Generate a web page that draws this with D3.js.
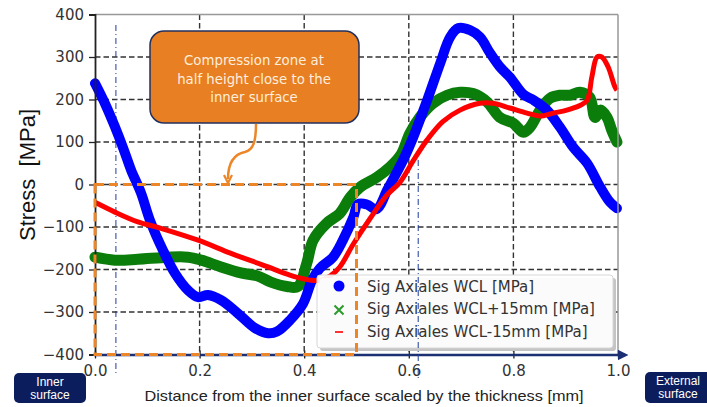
<!DOCTYPE html>
<html>
<head>
<meta charset="utf-8">
<script src="https://cdn.jsdelivr.net/npm/d3@7"></script>
<style>
  body { margin: 0; background: #fff; }
  svg { display: block; }
</style>
</head>
<body>
<svg id="chart" width="707" height="407"></svg>
<script>
// Stress profiles (x = scaled distance, y = MPa)
var wclX = [0, 0.02, 0.038, 0.055, 0.069, 0.088, 0.105, 0.13, 0.153, 0.178, 0.197, 0.216, 0.241, 0.273, 0.306, 0.331, 0.348, 0.373, 0.398, 0.415, 0.43, 0.455, 0.474, 0.494, 0.503, 0.52, 0.538, 0.56, 0.589, 0.608, 0.635, 0.66, 0.679, 0.695, 0.717, 0.736, 0.755, 0.774, 0.793, 0.819, 0.838, 0.864, 0.889, 0.914, 0.941, 0.966, 0.985, 0.998];
var wclY = [238, 188, 136, 82, 34, -20, -84, -155, -209, -249, -265, -260, -272, -303, -338, -350, -346, -319, -280, -225, -197, -171, -131, -77, -46, -47, -58, -10, 57, 110, 198, 285, 347, 368, 363, 347, 310, 277, 253, 212, 199, 175, 135, 88, 50, -6, -42, -56];

var plusX = [0, 0.038, 0.082, 0.14, 0.178, 0.203, 0.241, 0.279, 0.31, 0.335, 0.367, 0.388, 0.405, 0.417, 0.443, 0.468, 0.488, 0.507, 0.539, 0.564, 0.585, 0.602, 0.621, 0.646, 0.673, 0.698, 0.723, 0.75, 0.774, 0.8, 0.819, 0.832, 0.851, 0.87, 0.889, 0.908, 0.927, 0.946, 0.956, 0.966, 0.979, 0.988, 0.998];
var plusY = [-171, -178, -176, -171, -171, -178, -194, -208, -215, -229, -240, -240, -185, -131, -91, -68, -30, -6, 17, 41, 70, 120, 158, 191, 210, 217, 214, 194, 158, 144, 123, 135, 175, 203, 210, 210, 217, 205, 158, 175, 158, 128, 100];

var minusX = [0, 0.038, 0.082, 0.126, 0.197, 0.26, 0.331, 0.36, 0.385, 0.411, 0.43, 0.45, 0.468, 0.494, 0.526, 0.558, 0.583, 0.608, 0.635, 0.665, 0.698, 0.736, 0.761, 0.793, 0.826, 0.851, 0.876, 0.902, 0.927, 0.941, 0.95, 0.96, 0.969, 0.981, 0.994, 0.998];
var minusY = [-42, -65, -88, -103, -131, -162, -194, -208, -218, -225, -226, -215, -194, -140, -80, -25, 5, 55, 105, 148, 175, 191, 191, 180, 168, 161, 168, 175, 186, 198, 253, 300, 300, 277, 230, 222];

var seriesNames = ["Sig Axiales WCL [MPa]", "Sig Axiales WCL+15mm [MPa]", "Sig Axiales WCL-15mm [MPa]"];
var xTicks = [0, 0.2, 0.4, 0.6, 0.8, 1.0];
var yTicks = [-400, -300, -200, -100, 0, 100, 200, 300, 400];
var noteLines = ["Compression zone at", "half height close to the", "inner surface"];
var markerX = [0.04, 0.618];   // the two dash-dot guides
var zoneX = [0, 0.5];          // orange dashed compression zone
var zoneY = [-400, 0];

var svg = d3.select("#chart");

var x = d3.scaleLinear().domain([0, 1]).range([95, 618]);
var y = d3.scaleLinear().domain([-400, 400]).range([354.5, 14.5]);

// grid
svg.append("g").selectAll("line")
    .data(xTicks.slice(1, 5))
    .enter().append("line")
    .attr("x1", function(d) { return x(d); })
    .attr("x2", function(d) { return x(d); })
    .attr("y1", y(400)).attr("y2", y(-400))
    .attr("stroke", "#333").attr("stroke-width", 1.4)
    .attr("stroke-dasharray", "5.5,3");

svg.append("g").selectAll("line")
    .data(yTicks.slice(1, 8))
    .enter().append("line")
    .attr("x1", x(0)).attr("x2", x(1))
    .attr("y1", function(d) { return y(d); })
    .attr("y2", function(d) { return y(d); })
    .attr("stroke", "#333").attr("stroke-width", 1.4)
    .attr("stroke-dasharray", "5.5,3");

// first dash-dot guide (behind the curves)
svg.append("line")
    .attr("x1", x(markerX[0])).attr("x2", x(markerX[0]))
    .attr("y1", 25).attr("y2", 374)
    .attr("stroke", "#1f3c9a").attr("stroke-width", 1)
    .attr("stroke-dasharray", "6,3,1,3");

// curves
var line = d3.line()
    .x(function(d) { return x(d[0]); })
    .y(function(d) { return y(d[1]); })
    .curve(d3.curveCatmullRom.alpha(0.5));

function pairs(xs, ys) {
    return xs.map(function(v, i) { return [v, ys[i]]; });
}

svg.append("path")
    .datum(pairs(plusX, plusY))
    .attr("d", line)
    .attr("fill", "none").attr("stroke", "#0a7d0a")
    .attr("stroke-width", 11).attr("stroke-linejoin", "round").attr("stroke-linecap", "round");

svg.append("path")
    .datum(pairs(wclX, wclY))
    .attr("d", line)
    .attr("fill", "none").attr("stroke", "#0000ff")
    .attr("stroke-width", 10).attr("stroke-linejoin", "round").attr("stroke-linecap", "round");

svg.append("path")
    .datum(pairs(minusX, minusY))
    .attr("d", line)
    .attr("fill", "none").attr("stroke", "#ff0000")
    .attr("stroke-width", 5).attr("stroke-linejoin", "round").attr("stroke-linecap", "butt");

// spines
svg.append("line")
    .attr("x1", x(0)).attr("x2", x(1)).attr("y1", y(400)).attr("y2", y(400))
    .attr("stroke", "#999").attr("stroke-width", 1.5);
svg.append("line")
    .attr("x1", x(1)).attr("x2", x(1)).attr("y1", y(400)).attr("y2", y(-400))
    .attr("stroke", "#999").attr("stroke-width", 1.5);

var yAxis = svg.append("g")
    .attr("transform", "translate(" + x(0) + ",0)")
    .call(d3.axisLeft(y).tickValues(yTicks).tickSize(6).tickPadding(5));
yAxis.select(".domain").attr("stroke", "#222").attr("stroke-width", 1.8);
yAxis.selectAll(".tick line").attr("stroke", "#222").attr("stroke-width", 1.3);
yAxis.selectAll("text")
    .attr("font-family", "DejaVu Sans").attr("font-size", 15).attr("fill", "#333");

var xAxis = svg.append("g")
    .attr("transform", "translate(0," + y(-400) + ")")
    .call(d3.axisBottom(x).tickValues(xTicks).tickFormat(d3.format(".1f")).tickSize(4).tickPadding(7));
xAxis.select(".domain").remove();
xAxis.selectAll(".tick line").attr("y1", -4).attr("stroke", "#222").attr("stroke-width", 1.3);
xAxis.selectAll("text")
    .attr("font-family", "DejaVu Sans").attr("font-size", 15).attr("fill", "#333");

// navy x axis with arrow
svg.append("defs").append("marker")
    .attr("id", "axisArrow")
    .attr("viewBox", "0 0 10 10").attr("refX", 2).attr("refY", 5)
    .attr("markerWidth", 4).attr("markerHeight", 4)
    .attr("orient", "auto")
    .append("path").attr("d", "M0,0 L10,5 L0,10 Z").attr("fill", "#1b2f72");

svg.append("line")
    .attr("x1", x(0) - 1).attr("x2", 620)
    .attr("y1", y(-400) + 0.5).attr("y2", y(-400) + 0.5)
    .attr("stroke", "#1b2f72").attr("stroke-width", 2.6)
    .attr("marker-end", "url(#axisArrow)");

// axis titles
svg.append("text")
    .attr("transform", "translate(35,175) rotate(-90)")
    .attr("text-anchor", "middle")
    .attr("xml:space", "preserve")
    .style("white-space", "pre")
    .attr("font-family", "Liberation Sans").attr("font-size", 22).attr("fill", "#111")
    .text("Stress  [MPa]");

svg.append("text")
    .attr("x", 364).attr("y", 401)
    .attr("text-anchor", "middle")
    .attr("font-family", "Liberation Sans").attr("font-size", 14.5).attr("fill", "#222")
    .attr("textLength", 439).attr("lengthAdjust", "spacingAndGlyphs")
    .text("Distance from the inner surface scaled by the thickness [mm]");

// legend
var legend = svg.append("g").attr("transform", "translate(317,275)");
legend.append("rect")
    .attr("x", 3).attr("y", 3).attr("width", 296).attr("height", 73)
    .attr("rx", 3).attr("fill", "#c4c4c4");
legend.append("rect")
    .attr("width", 296).attr("height", 73)
    .attr("rx", 3).attr("fill", "#fff").attr("fill-opacity", 0.92)
    .attr("stroke", "#d6d6d6").attr("stroke-width", 1);

legend.append("circle").attr("cx", 22).attr("cy", 11).attr("r", 5.5).attr("fill", "#0000ff");
legend.append("path").attr("d", "M17.5,30.5 L26.5,39.5 M26.5,30.5 L17.5,39.5")
    .attr("stroke", "#2a9a2a").attr("stroke-width", 2);
legend.append("line").attr("x1", 18).attr("x2", 26).attr("y1", 57).attr("y2", 57)
    .attr("stroke", "#ff3030").attr("stroke-width", 2);

legend.selectAll("text.lbl")
    .data(seriesNames)
    .enter().append("text")
    .attr("class", "lbl")
    .attr("x", 50)
    .attr("y", function(d, i) { return 16.5 + i * 22.5; })
    .attr("font-family", "DejaVu Sans").attr("font-size", 15).attr("fill", "#333")
    .text(function(d) { return d; });

// second dash-dot guide
svg.append("line")
    .attr("x1", x(markerX[1])).attr("x2", x(markerX[1]))
    .attr("y1", 160).attr("y2", 378)
    .attr("stroke", "#1f3c9a").attr("stroke-width", 1)
    .attr("stroke-dasharray", "6,3,1,3");

// orange dashed compression zone
svg.append("rect")
    .attr("x", x(zoneX[0])).attr("y", y(zoneY[1]))
    .attr("width", x(zoneX[1]) - x(zoneX[0]))
    .attr("height", y(zoneY[0]) - y(zoneY[1]))
    .attr("fill", "none").attr("stroke", "#ec8628").attr("stroke-width", 3)
    .attr("stroke-dasharray", "9,5");

// callout box and curved arrow
svg.append("defs").append("marker")
    .attr("id", "noteArrow")
    .attr("viewBox", "0 0 10 10").attr("refX", 5).attr("refY", 5)
    .attr("markerWidth", 4).attr("markerHeight", 4)
    .attr("orient", "auto")
    .append("path").attr("d", "M1,1 L9,5 L1,9").attr("fill", "none")
    .attr("stroke", "#ec8628").attr("stroke-width", 2.2);

svg.append("path")
    .attr("d", "M256,124 C256,142 253,150 245,152 C235,154 228,162 228,179")
    .attr("fill", "none").attr("stroke", "#ec8628").attr("stroke-width", 2.5)
    .attr("marker-end", "url(#noteArrow)");

svg.append("rect")
    .attr("x", 150).attr("y", 31).attr("width", 209).attr("height", 92)
    .attr("rx", 14).attr("fill", "#e87f22")
    .attr("stroke", "#22305e").attr("stroke-width", 1.5);

svg.append("g").selectAll("text")
    .data(noteLines)
    .enter().append("text")
    .attr("x", 254)
    .attr("y", function(d, i) { return 65 + i * 18.5; })
    .attr("text-anchor", "middle")
    .attr("font-family", "DejaVu Sans").attr("font-size", 13.3).attr("fill", "#fdeedd")
    .text(function(d) { return d; });

// surface tags
function tag(x0, y0, w, h, lines) {
    var g = svg.append("g");
    g.append("rect").attr("x", x0).attr("y", y0).attr("width", w).attr("height", h)
        .attr("rx", 5).attr("fill", "#0b1d5c");
    g.selectAll("text").data(lines).enter().append("text")
        .attr("x", x0 + w / 2)
        .attr("y", function(d, i) { return y0 + 12.5 + i * 13.5; })
        .attr("text-anchor", "middle")
        .attr("font-family", "Liberation Sans").attr("font-size", 12).attr("fill", "#fff")
        .text(function(d) { return d; });
}
tag(14, 373, 72, 30, ["Inner", "surface"]);
tag(645, 372, 66, 31, ["External", "surface"]);
</script>
</body>
</html>
